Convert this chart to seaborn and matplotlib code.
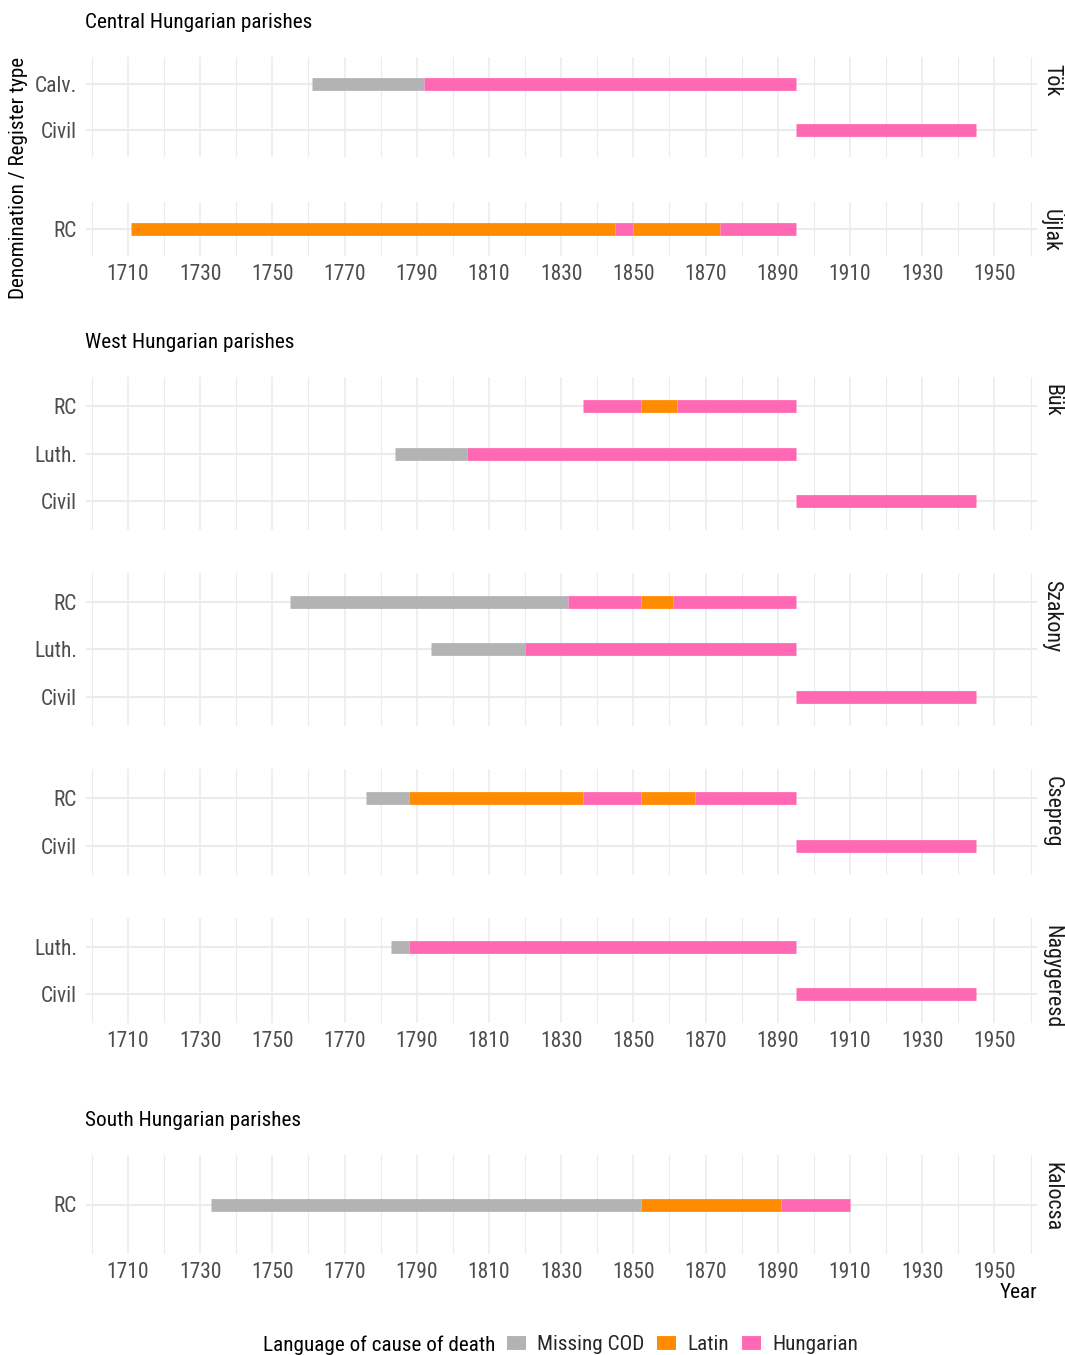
import matplotlib
matplotlib.use("Agg")
import matplotlib.pyplot as plt
from matplotlib.lines import Line2D
import seaborn as sns
import pandas as pd

# ---------------- data ----------------
region_titles = ["Central Hungarian parishes", "West Hungarian parishes", "South Hungarian parishes"]
central_parishes = ["Tök", "Újlak"]
west_parishes = ["Bük", "Szakony", "Csepreg", "Nagygeresd"]
south_parishes = ["Kalocsa"]

tok_registers = ["Calv.", "Civil"]
ujlak_registers = ["RC"]
buk_registers = ["RC", "Luth.", "Civil"]
szakony_registers = ["RC", "Luth.", "Civil"]
csepreg_registers = ["RC", "Civil"]
nagygeresd_registers = ["Luth.", "Civil"]
kalocsa_registers = ["RC"]

seg_parish = ["Tök", "Tök", "Tök",
              "Újlak", "Újlak", "Újlak", "Újlak",
              "Bük", "Bük", "Bük", "Bük", "Bük", "Bük",
              "Szakony", "Szakony", "Szakony", "Szakony", "Szakony", "Szakony", "Szakony",
              "Csepreg", "Csepreg", "Csepreg", "Csepreg", "Csepreg", "Csepreg",
              "Nagygeresd", "Nagygeresd", "Nagygeresd",
              "Kalocsa", "Kalocsa", "Kalocsa"]
seg_register = ["Calv.", "Calv.", "Civil",
                "RC", "RC", "RC", "RC",
                "RC", "RC", "RC", "Luth.", "Luth.", "Civil",
                "RC", "RC", "RC", "RC", "Luth.", "Luth.", "Civil",
                "RC", "RC", "RC", "RC", "RC", "Civil",
                "Luth.", "Luth.", "Civil",
                "RC", "RC", "RC"]
seg_start = [1761, 1792, 1895,
             1711, 1845, 1850, 1874,
             1836, 1852, 1862, 1784, 1804, 1895,
             1755, 1832, 1852, 1861, 1794, 1820, 1895,
             1776, 1788, 1836, 1852, 1867, 1895,
             1783, 1788, 1895,
             1733, 1852, 1891]
seg_end = [1792, 1895, 1945,
           1845, 1850, 1874, 1895,
           1852, 1862, 1895, 1804, 1895, 1945,
           1832, 1852, 1861, 1895, 1820, 1895, 1945,
           1788, 1836, 1852, 1867, 1895, 1945,
           1788, 1895, 1945,
           1852, 1891, 1910]
seg_language = ["Missing COD", "Hungarian", "Hungarian",
                "Latin", "Hungarian", "Latin", "Hungarian",
                "Hungarian", "Latin", "Hungarian", "Missing COD", "Hungarian", "Hungarian",
                "Missing COD", "Hungarian", "Latin", "Hungarian", "Missing COD", "Hungarian", "Hungarian",
                "Missing COD", "Latin", "Hungarian", "Latin", "Hungarian", "Hungarian",
                "Missing COD", "Hungarian", "Hungarian",
                "Missing COD", "Latin", "Hungarian"]

languages = ["Missing COD", "Latin", "Hungarian"]
year_ticks = [1710, 1730, 1750, 1770, 1790, 1810, 1830, 1850, 1870, 1890, 1910, 1930, 1950]
year_minor = [1700, 1720, 1740, 1760, 1780, 1800, 1820, 1840, 1860, 1880, 1900, 1920, 1940, 1960]

df = pd.DataFrame({"parish": seg_parish, "register": seg_register,
                   "start": seg_start, "end": seg_end, "language": seg_language})

# ---------------- style ----------------
sns.set_theme(style="white")
FONT = ["Roboto Condensed", "Liberation Sans Narrow", "Roboto", "DejaVu Sans"]
plt.rcParams["font.family"] = FONT
palette = dict(zip(languages, ["#B3B3B3", "#FF8C00", "#FF69B4"]))
GRID = "#EBEBEB"
TICKC = "#4D4D4D"

W, H = 1065, 1355
fig = plt.figure(figsize=(W / 100, H / 100), dpi=100)
PL, PR = 86, 1037
XLIM = (1698.4, 1961.8)

registers_of = {"Tök": tok_registers, "Újlak": ujlak_registers, "Bük": buk_registers,
                "Szakony": szakony_registers, "Csepreg": csepreg_registers,
                "Nagygeresd": nagygeresd_registers, "Kalocsa": kalocsa_registers}

# panel boxes in pixels (top, bottom)
panel_box = {"Tök": (57, 157), "Újlak": (202, 256),
             "Bük": (377, 530), "Szakony": (573, 726), "Csepreg": (769, 875), "Nagygeresd": (918, 1023),
             "Kalocsa": (1155, 1254)}
title_y = [22, 343, 1120]
groups = [central_parishes, west_parishes, south_parishes]

for gi, group in enumerate(groups):
    fig.text(85 / W, 1 - title_y[gi] / H, region_titles[gi], ha="left", va="center",
             fontsize=15.3, color="black")
    for pi, p in enumerate(group):
        top, bot = panel_box[p]
        ax = fig.add_axes([PL / W, 1 - bot / H, (PR - PL) / W, (bot - top) / H])
        regs = registers_of[p]
        n = len(regs)
        sub = df[df["parish"] == p]
        ypos = sub["register"].map({r: i for i, r in enumerate(regs)})
        ax.hlines(ypos, sub["start"], sub["end"], colors=sub["language"].map(palette),
                  linewidth=9.2, capstyle="butt", zorder=3)
        ax.set_xlim(*XLIM)
        ax.set_ylim(n - 1 + 0.6, -0.6)
        ax.set_yticks(range(n))
        ax.set_yticklabels(regs)
        ax.set_xticks(year_ticks)
        ax.set_xticks(year_minor, minor=True)
        ax.set_xticklabels([str(t) for t in year_ticks])
        ax.grid(which="major", axis="y", color=GRID, linewidth=1.5)
        ax.grid(which="major", axis="x", color=GRID, linewidth=1.1)
        ax.grid(which="minor", axis="x", color=GRID, linewidth=0.8)
        ax.set_axisbelow(True)
        ax.tick_params(axis="both", which="both", length=0, labelsize=15.5, labelcolor=TICKC)
        ax.tick_params(axis="y", pad=6.5)
        ax.tick_params(axis="x", pad=5.5)
        if pi != len(group) - 1:
            ax.tick_params(labelbottom=False)
        sns.despine(ax=ax, left=True, bottom=True)
        ax.patch.set_alpha(0)
        # facet strip label (rotated, starting near the panel top)
        fig.text(1052 / W, 1 - (top + 7) / H, p, rotation=270, ha="center", va="top",
                 fontsize=15.8, color="#1A1A1A")

# axis titles
fig.text(19 / W, 1 - 178 / H, "Denomination / Register type", rotation=90, ha="center", va="center",
         fontsize=15.2, color="black")
fig.text(1037 / W, 1 - 1293 / H, "Year", ha="right", va="center", fontsize=15.3, color="black")

# legend
fig.text(263 / W, 1 - 1345 / H, "Language of cause of death", ha="left", va="center",
         fontsize=15.2, color="black")
handles = [Line2D([0], [0], color=palette[l], linewidth=10, solid_capstyle="butt") for l in languages]
fig.legend(handles, languages, loc="center left", bbox_to_anchor=(507 / W, 1 - 1345 / H),
           ncol=3, frameon=False, fontsize=15.2, handlelength=0.9, handletextpad=0.52,
           columnspacing=0.62, borderpad=0, borderaxespad=0)

fig.savefig("out.png", dpi=100)
